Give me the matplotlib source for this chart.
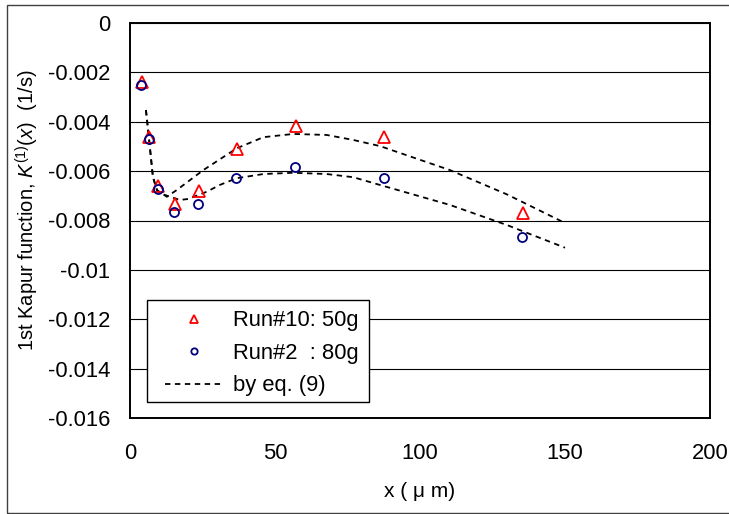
import matplotlib
matplotlib.use("Agg")
import matplotlib.pyplot as plt
from matplotlib.patches import Rectangle

plt.rcParams['font.family'] = ['Liberation Sans', 'DejaVu Sans']
plt.rcParams['mathtext.fontset'] = 'custom'
plt.rcParams['mathtext.rm'] = 'Liberation Sans'
plt.rcParams['mathtext.it'] = 'Liberation Sans:italic'

# Data
run10_x = [4.0, 6.7, 9.8, 15.5, 23.8, 36.8, 57.1, 87.7, 135.6]
run10_y = [-0.00239, -0.00461, -0.00660, -0.00733, -0.00679, -0.00512, -0.00417, -0.00463, -0.00768]
run2_x = [3.7, 6.4, 9.6, 15.2, 23.4, 36.6, 56.9, 87.5, 135.3]
run2_y = [-0.00252, -0.00472, -0.00673, -0.00764, -0.00733, -0.00629, -0.00582, -0.00629, -0.00868]

fit10_x = [5.5, 6.6, 7.9, 9.3, 12.7, 16.1, 25.3, 36.8, 46.0, 56.3, 67.8, 76.9, 86.2, 110.3, 129.9, 150.0]
fit10_y = [-0.00353, -0.00474, -0.00624, -0.00677, -0.00704, -0.00677, -0.00596, -0.00508, -0.00463,
           -0.00450, -0.00454, -0.00474, -0.00499, -0.00596, -0.00694, -0.00810]
fit2_x = [5.5, 6.6, 7.9, 9.3, 10.3, 17.2, 20.0, 26.4, 31.0, 36.8, 46.0, 56.3, 67.8, 77.0, 87.3, 110.3, 129.9, 150.0]
fit2_y = [-0.00353, -0.00474, -0.00624, -0.00677, -0.00690, -0.00717, -0.00713, -0.00684, -0.00656,
          -0.00629, -0.00612, -0.00607, -0.00612, -0.00625, -0.00660, -0.00737, -0.00818, -0.00910]

labels = ['Run#10: 50g', 'Run#2  : 80g', 'by eq. (9)']
xticks = [0, 50, 100, 150, 200]
yticks = [0, -0.002, -0.004, -0.006, -0.008, -0.01, -0.012, -0.014, -0.016]
ytick_labels = ['0', '-0.002', '-0.004', '-0.006', '-0.008', '-0.01', '-0.012', '-0.014', '-0.016']

fs = 15.8
fig = plt.figure(figsize=(7.29, 5.14), dpi=100)
ax = fig.add_axes([130/729, 1-418.3/514, 580/729, 395.6/514])

for yv in yticks:
    ax.axhline(yv, color='black', lw=0.8, zorder=1)

ax.plot(fit10_x, fit10_y, color='black', lw=1.3, dashes=(3.0, 2.5), zorder=2)
ax.plot(fit2_x, fit2_y, color='black', lw=1.3, dashes=(3.0, 2.5), zorder=2)
ax.plot(run10_x, run10_y, linestyle='none', marker='^', ms=8, mfc='none', mec='#FF0000', mew=1.3, zorder=3)
ax.plot(run2_x, run2_y, linestyle='none', marker='o', ms=6.5, mfc='none', mec='#000080', mew=1.3, zorder=3)

ax.set_xlim(0, 200)
ax.set_ylim(-0.016, 0)
ax.set_xticks(xticks)
ax.set_xticklabels([str(v) for v in xticks])
ax.set_yticks(yticks)
ax.set_yticklabels(ytick_labels)
ax.tick_params(axis='both', length=0, labelsize=fs)
ax.tick_params(axis='x', pad=18)
ax.tick_params(axis='y', pad=14)
for s in ax.spines.values():
    s.set_linewidth(1.4)
    s.set_color('black')
    s.set_zorder(6)

ax.set_xlabel('x ( μ m)', fontsize=15, labelpad=13)
ax.set_ylabel(r'1st Kapur function, $K^{(1)}(x)$  (1/s)', fontsize=14.5)
ax.yaxis.set_label_coords(-0.153, 0.527)

# legend box
ax.add_patch(Rectangle((0.0288, 0.042), 0.383, 0.257, transform=ax.transAxes,
                       facecolor='white', edgecolor='black', lw=1.0, zorder=4.5))
h1, = ax.plot([], [], linestyle='none', marker='^', ms=8, mfc='none', mec='#FF0000', mew=1.3)
h2, = ax.plot([], [], linestyle='none', marker='o', ms=6.5, mfc='none', mec='#000080', mew=1.3)
h3, = ax.plot([], [], color='black', lw=1.3, dashes=(3.0, 2.5))
leg = ax.legend([h1, h2, h3], labels, loc='upper left', bbox_to_anchor=(0.0603, 0.2725),
                borderaxespad=0, borderpad=0, frameon=False, fontsize=fs,
                handlelength=2.64, handletextpad=0.45, labelspacing=0.52, markerscale=0.7)
leg.set_zorder(5)

fig.add_artist(Rectangle((7/729, 1/514), 1.0, 508/514, transform=fig.transFigure,
                         facecolor='none', edgecolor='#404040', lw=1.0))

fig.savefig('out.png', dpi=100)
